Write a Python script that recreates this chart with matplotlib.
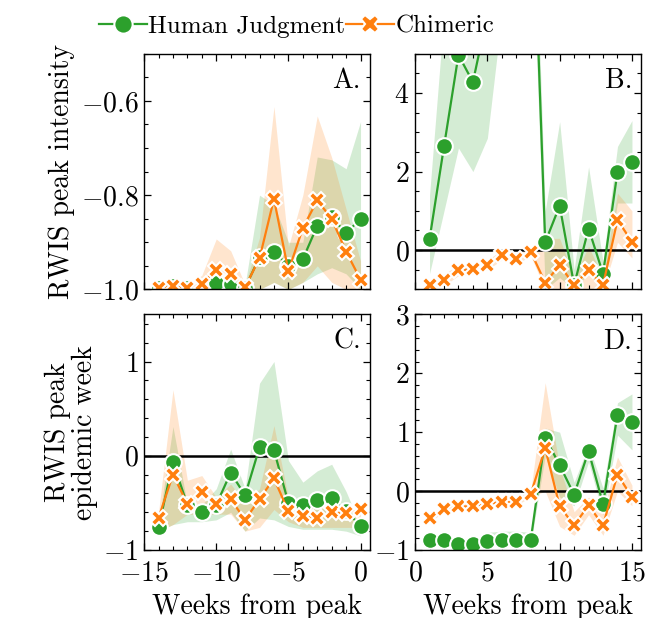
import numpy as np
import matplotlib
matplotlib.use("Agg")
import matplotlib.pyplot as plt
from matplotlib.ticker import AutoMinorLocator, MultipleLocator

plt.rcParams['font.family'] = ['cmr10', 'DejaVu Serif']
plt.rcParams['mathtext.fontset'] = 'cm'
plt.rcParams['axes.formatter.use_mathtext'] = True
plt.rcParams['axes.unicode_minus'] = True

GREEN = '#2ca02c'
ORANGE = '#ff7f0e'
FS = 20

# weeks before the peak (left column) and after it (right column)
weeks_before = list(range(-14, 1))
weeks_after = list(range(1, 16))

# A. peak intensity, weeks before peak
a_human = [-0.997, -0.993, -0.997, -0.997, -0.986, -0.989, -0.997, -0.931, -0.920, -0.950,
           -0.936, -0.865, -0.847, -0.881, -0.850]
a_human_lo = [-1.0, -1.0, -1.0, -1.0, -0.995, -0.998, -1.0, -1.0, -0.985, -1.0,
              -0.985, -0.967, -0.954, -0.967, -1.0]
a_human_hi = [-0.99, -0.985, -0.99, -0.99, -0.975, -0.978, -0.99, -0.80, -0.82, -0.90,
              -0.90, -0.719, -0.725, -0.744, -0.644]
a_chim = [-0.998, -0.993, -0.997, -0.988, -0.959, -0.967, -0.995, -0.934, -0.808, -0.961,
          -0.870, -0.811, -0.850, -0.920, -0.979]
a_chim_lo = [-1.0, -1.0, -1.0, -0.998, -0.99, -0.99, -1.0, -1.0, -0.985, -1.0,
             -0.985, -0.95, -0.985, -1.0, -1.0]
a_chim_hi = [-0.99, -0.985, -0.99, -0.97, -0.893, -0.918, -0.99, -0.89, -0.612, -0.91,
             -0.80, -0.632, -0.72, -0.83, -0.94]

# B. peak intensity, weeks after peak
b_human = [0.28, 2.64, 4.97, 4.28, 6.0, 8.0, 9.0, 10.6, 0.2, 1.13,
           -0.89, 0.55, -0.6, 2.0, 2.25]
b_human_lo = [-0.6, 1.0, 2.6, 2.0, 2.85, 6.0, 7.0, 9.0, -1.0, -0.7,
              -1.0, -0.6, -1.0, 1.2, 1.2]
b_human_hi = [1.4, 6.0, 7.0, 7.0, 9.0, 11.0, 12.0, 12.0, 1.0, 3.27,
              -0.5, 2.12, -0.3, 2.64, 3.3]
b_chim = [-0.89, -0.75, -0.51, -0.49, -0.38, -0.13, -0.23, -0.04, -0.83, -0.38,
          -0.89, -0.51, -0.89, 0.77, 0.21]
b_chim_lo = [-1.0, -0.9, -0.65, -0.62, -0.5, -0.25, -0.35, -0.15, -1.0, -1.0,
             -1.0, -1.0, -1.0, 0.2, -0.2]
b_chim_hi = [-0.75, -0.6, -0.38, -0.36, -0.25, 0.0, -0.1, 0.1, 0.3, 0.3,
             -0.7, 0.1, -0.7, 1.45, 1.0]

# C. peak epidemic week, weeks before peak
c_human = [-0.76, -0.07, -0.52, -0.60, -0.52, -0.18, -0.42, 0.09, 0.06, -0.50,
           -0.52, -0.47, -0.45, -0.59, -0.74]
c_human_lo = [-0.80, -0.73, -0.70, -0.70, -0.68, -0.60, -0.80, -0.66, -0.68, -0.75,
              -0.78, -0.78, -0.78, -0.80, -0.85]
c_human_hi = [-0.72, 0.31, -0.52, -0.52, -0.35, 0.07, -0.35, 0.77, 1.0, -0.05,
              -0.28, -0.16, -0.09, -0.38, -0.74]
c_chim = [-0.66, -0.20, -0.51, -0.38, -0.51, -0.46, -0.68, -0.46, -0.24, -0.59,
          -0.64, -0.66, -0.60, -0.61, -0.57]
c_chim_lo = [-0.80, -0.73, -0.62, -0.62, -0.62, -0.62, -0.80, -0.76, -0.57, -0.70,
             -0.76, -0.76, -0.76, -0.76, -0.76]
c_chim_hi = [-0.60, 0.70, -0.26, -0.21, -0.44, -0.30, -0.50, -0.35, 0.32, -0.45,
             -0.52, -0.55, -0.50, -0.52, -0.52]

# D. peak epidemic week, weeks after peak
d_human = [-0.83, -0.83, -0.89, -0.90, -0.85, -0.83, -0.83, -0.83, 0.91, 0.44,
           -0.06, 0.68, -0.22, 1.30, 1.17]
d_human_lo = [-0.88, -0.88, -0.94, -0.95, -0.92, -0.90, -0.90, -0.90, 0.6, -0.1,
              -0.25, 0.5, -0.4, 0.95, 0.7]
d_human_hi = [-0.78, -0.78, -0.84, -0.85, -0.70, -0.68, -0.68, -0.70, 1.07, 1.0,
              0.15, 0.78, 0.05, 1.5, 1.65]
d_chim = [-0.46, -0.30, -0.26, -0.26, -0.22, -0.18, -0.18, -0.05, 0.73, -0.26,
          -0.58, -0.24, -0.58, 0.28, -0.10]
d_chim_lo = [-0.52, -0.36, -0.32, -0.32, -0.28, -0.24, -0.24, -0.10, 0.0, -0.6,
             -0.75, -0.4, -0.75, 0.0, -0.25]
d_chim_hi = [-0.40, -0.24, -0.20, -0.20, -0.16, -0.12, -0.12, 0.0, 1.84, 0.4,
             -0.35, -0.1, -0.35, 0.58, 0.1]


def draw(ax, x, hum, hum_lo, hum_hi, chim, chim_lo, chim_hi):
    ax.fill_between(x, hum_lo, hum_hi, color=GREEN, alpha=0.2, lw=0)
    ax.fill_between(x, chim_lo, chim_hi, color=ORANGE, alpha=0.2, lw=0)
    ax.plot(x, hum, color=GREEN, lw=1.6, marker='o', ms=12,
            mec='white', mew=1.5, label='Human Judgment')
    ax.plot(x, chim, color=ORANGE, lw=1.6, marker='X', ms=12,
            mec='white', mew=1.5, label='Chimeric')


fig, axes = plt.subplots(2, 2, figsize=(6.52, 6.18), dpi=100)
fig.subplots_adjust(left=0.221, right=0.983, top=0.913, bottom=0.11,
                    wspace=0.2, hspace=0.106)
(ax_a, ax_b), (ax_c, ax_d) = axes

draw(ax_a, weeks_before, a_human, a_human_lo, a_human_hi, a_chim, a_chim_lo, a_chim_hi)
draw(ax_b, weeks_after, b_human, b_human_lo, b_human_hi, b_chim, b_chim_lo, b_chim_hi)
draw(ax_c, weeks_before, c_human, c_human_lo, c_human_hi, c_chim, c_chim_lo, c_chim_hi)
draw(ax_d, weeks_after, d_human, d_human_lo, d_human_hi, d_chim, d_chim_lo, d_chim_hi)

for ax in (ax_b, ax_c, ax_d):
    ax.axhline(0, color='black', lw=1.8, zorder=1.5)

ax_a.set_ylim(-1.0, -0.5)
ax_a.yaxis.set_major_locator(MultipleLocator(0.2))
ax_b.set_ylim(-1, 5)
ax_b.yaxis.set_major_locator(MultipleLocator(2))
ax_c.set_ylim(-1, 1.5)
ax_c.yaxis.set_major_locator(MultipleLocator(1))
ax_d.set_ylim(-1, 3)
ax_d.yaxis.set_major_locator(MultipleLocator(1))

for ax in (ax_a, ax_c):
    ax.set_xlim(-15, 0.65)
for ax in (ax_b, ax_d):
    ax.set_xlim(0, 15.62)

for ax, letter in zip((ax_a, ax_b, ax_c, ax_d), 'ABCD'):
    ax.xaxis.set_major_locator(MultipleLocator(5))
    ax.xaxis.set_minor_locator(AutoMinorLocator(5))
    ax.yaxis.set_minor_locator(AutoMinorLocator())
    ax.tick_params(which='both', direction='in', top=True, right=True, labelsize=FS)
    ax.tick_params(which='major', length=5, width=0.9, pad=4)
    ax.tick_params(axis='x', which='major', pad=7)
    ax.tick_params(which='minor', length=2.8, width=0.8)
    for s in ax.spines.values():
        s.set_linewidth(1.0)
    ax.text(0.96, 0.94, letter + '.', transform=ax.transAxes, ha='right', va='top',
            fontsize=FS)

ax_a.tick_params(labelbottom=False)
ax_b.tick_params(labelbottom=False)

ax_a.set_ylabel('RWIS peak intensity', fontsize=FS)
ax_c.set_ylabel('RWIS peak\nepidemic week', fontsize=FS, linespacing=1.0)
ax_c.set_xlabel('Weeks from peak', fontsize=FS, labelpad=5)
ax_d.set_xlabel('Weeks from peak', fontsize=FS, labelpad=5)

handles, labels = ax_a.get_legend_handles_labels()
fig.legend(handles, labels, loc='upper center', bbox_to_anchor=(0.455, 1.012), ncol=2,
           frameon=False, fontsize=18, handlelength=1.9, handletextpad=0.05,
           columnspacing=0.05, markerscale=1.1)

fig.savefig('out.png', dpi=100)
